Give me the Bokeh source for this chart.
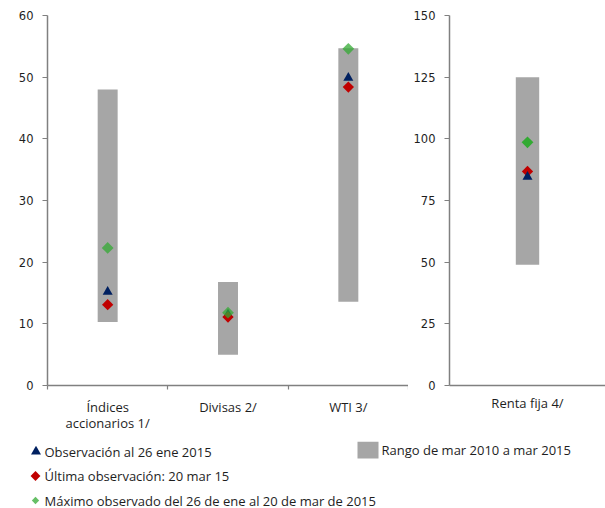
from bokeh.plotting import figure
from bokeh.layouts import column, row
from bokeh.models import (Range1d, FixedTicker, CustomJSTickFormatter,
                          ColumnDataSource)
from bokeh.embed import file_html
from bokeh.resources import INLINE
import numpy as np

# --- data -----------------------------------------------------------------
left_labels = ["Índices\naccionarios 1/", "Divisas 2/", "WTI 3/"]
left_low = [10.3, 5.0, 13.6]
left_high = [48.0, 16.8, 54.7]
left_obs_jan = [15.2, 11.5, 49.9]
left_last = [13.1, 11.1, 48.4]
left_max = [22.3, 11.8, 54.6]

right_labels = ["Renta fija 4/"]
right_low = [49.0]
right_high = [125.0]
right_obs_jan = [84.6]
right_last = [86.8]
right_max = [98.6]

left_ticks = [0, 10, 20, 30, 40, 50, 60]
right_ticks = [0, 25, 50, 75, 100, 125, 150]

legend_labels = ["Observación al 26 ene 2015",
                 "Última observación: 20 mar 15",
                 "Máximo observado del 26 de ene al 20 de mar de 2015"]
range_label = "Rango de mar 2010 a mar 2015"

# --- styles ---------------------------------------------------------------
GRAY_BAR = "#a6a6a6"
NAVY = "#002060"
RED = "#c00000"
GREEN = "#33aa33"
AXIS = "#808080"
TEXT = "#1e1e1e"
TICK_FONT = "DejaVu Sans"
LABEL_FONT = "Open Sans"
LABEL_SIZE = "13px"

FRAME_TOP = 15
FRAME_BOTTOM = 56
ROW_H = 441


def style_panel(p, yticks):
    p.xgrid.visible = False
    p.ygrid.visible = False
    p.outline_line_color = None
    p.background_fill_color = None
    p.border_fill_color = None
    for ax in (p.xaxis[0], p.yaxis[0]):
        ax.axis_line_color = AXIS
        ax.axis_line_width = 1.5
        ax.major_tick_line_color = AXIS
        ax.major_tick_line_width = 1.2
        ax.minor_tick_line_color = AXIS
        ax.minor_tick_line_width = 1.2
        ax.major_tick_in = 0
        ax.minor_tick_in = 0
    ya = p.yaxis[0]
    ya.ticker = FixedTicker(ticks=yticks)
    ya.major_tick_out = 5
    ya.minor_tick_out = 0
    ya.major_label_standoff = 9
    ya.major_label_text_font = TICK_FONT
    ya.major_label_text_font_size = "11.5px"
    ya.major_label_text_color = TEXT
    xa = p.xaxis[0]
    xa.major_tick_out = 0
    xa.major_tick_line_color = None
    xa.major_label_standoff = 8
    xa.major_label_text_font = LABEL_FONT
    xa.major_label_text_font_size = LABEL_SIZE
    xa.major_label_text_line_height = 0.9
    xa.major_label_text_color = TEXT


def category_axis(p, labels, boundaries):
    n = len(labels)
    centers = list(np.arange(n) + 0.5)
    p.xaxis[0].ticker = FixedTicker(ticks=centers, minor_ticks=boundaries)
    p.xaxis[0].minor_tick_out = 4
    p.xaxis[0].formatter = CustomJSTickFormatter(
        args=dict(labels=labels),
        code="return labels[Math.floor(tick)];")


def panel_source(labels, low, high, obs, last, mx):
    return ColumnDataSource(dict(
        x=np.arange(len(labels)) + 0.5,
        low=low, high=high, obs=obs, last=last, mx=mx))


# --- left panel: equity indices, currencies, WTI ---------------------------
p1 = figure(width=408, height=ROW_H, output_backend="svg", toolbar_location=None,
            x_range=Range1d(0, len(left_labels)), y_range=Range1d(0, 60),
            min_border_left=47, min_border_right=0,
            min_border_top=FRAME_TOP, min_border_bottom=FRAME_BOTTOM)
style_panel(p1, left_ticks)
category_axis(p1, left_labels, list(range(len(left_labels) + 1)))

s1 = panel_source(left_labels, left_low, left_high, left_obs_jan, left_last, left_max)
p1.vbar(x="x", width=0.166, bottom="low", top="high", source=s1,
        fill_color=GRAY_BAR, line_color=None)
p1.scatter(x="x", y="obs", source=s1, marker="triangle", size=10,
           fill_color=NAVY, line_color=None)
p1.scatter(x="x", y="last", source=s1, marker="square", angle=np.pi / 4, size=8,
           fill_color=RED, line_color=None)
p1.scatter(x="x", y="mx", source=s1, marker="square", angle=np.pi / 4, size=8.3,
           fill_color=GREEN, fill_alpha=0.75, line_color=None)

# --- right panel: fixed income ---------------------------------------------
p2 = figure(width=197, height=ROW_H, output_backend="svg", toolbar_location=None,
            x_range=Range1d(0, len(right_labels)), y_range=Range1d(0, 150),
            min_border_left=41, min_border_right=0,
            min_border_top=FRAME_TOP, min_border_bottom=FRAME_BOTTOM)
style_panel(p2, right_ticks)
category_axis(p2, right_labels, [])

s2 = panel_source(right_labels, right_low, right_high, right_obs_jan, right_last, right_max)
p2.vbar(x="x", width=0.15, bottom="low", top="high", source=s2,
        fill_color=GRAY_BAR, line_color=None)
p2.scatter(x="x", y="last", source=s2, marker="square", angle=np.pi / 4, size=8,
           fill_color=RED, line_color=None)
p2.scatter(x="x", y="obs", source=s2, marker="triangle", size=10,
           fill_color=NAVY, line_color=None)
p2.scatter(x="x", y="mx", source=s2, marker="square", angle=np.pi / 4, size=8.3,
           fill_color=GREEN, line_color=None)

# --- legend strip (drawn in pixel space) -----------------------------------
LEG_H = 508 - ROW_H
pl = figure(width=605, height=LEG_H, output_backend="svg", toolbar_location=None,
            x_range=Range1d(0, 605), y_range=Range1d(LEG_H, 0),
            min_border=0)
pl.axis.visible = False
pl.xgrid.visible = False
pl.ygrid.visible = False
pl.outline_line_color = None

row_y = [10 + 24.5 * i for i in range(len(legend_labels))]
pl.scatter(x=[35.5], y=[row_y[0]], marker="triangle", size=10,
           fill_color=NAVY, line_color=None)
pl.scatter(x=[35], y=[row_y[1]], marker="square", angle=np.pi / 4, size=7,
           fill_color=RED, line_color=None)
pl.scatter(x=[35], y=[row_y[2]], marker="square", angle=np.pi / 4, size=5.2,
           fill_color=GREEN, fill_alpha=0.75, line_color=None)
pl.text(x=[44] * len(legend_labels), y=row_y, text=legend_labels,
        text_font_size=LABEL_SIZE, text_baseline="middle", text_color=TEXT,
        text_font={"value": LABEL_FONT})
pl.rect(x=[367.5], y=[8.5], width=21, height=17,
        fill_color=GRAY_BAR, line_color=None)
pl.text(x=[381], y=[8], text=[range_label],
        text_font_size=LABEL_SIZE, text_baseline="middle", text_color=TEXT,
        text_font={"value": LABEL_FONT})

layout = column(row(p1, p2, spacing=0), pl, spacing=0)
open("out.html", "w").write(file_html(layout, INLINE))
